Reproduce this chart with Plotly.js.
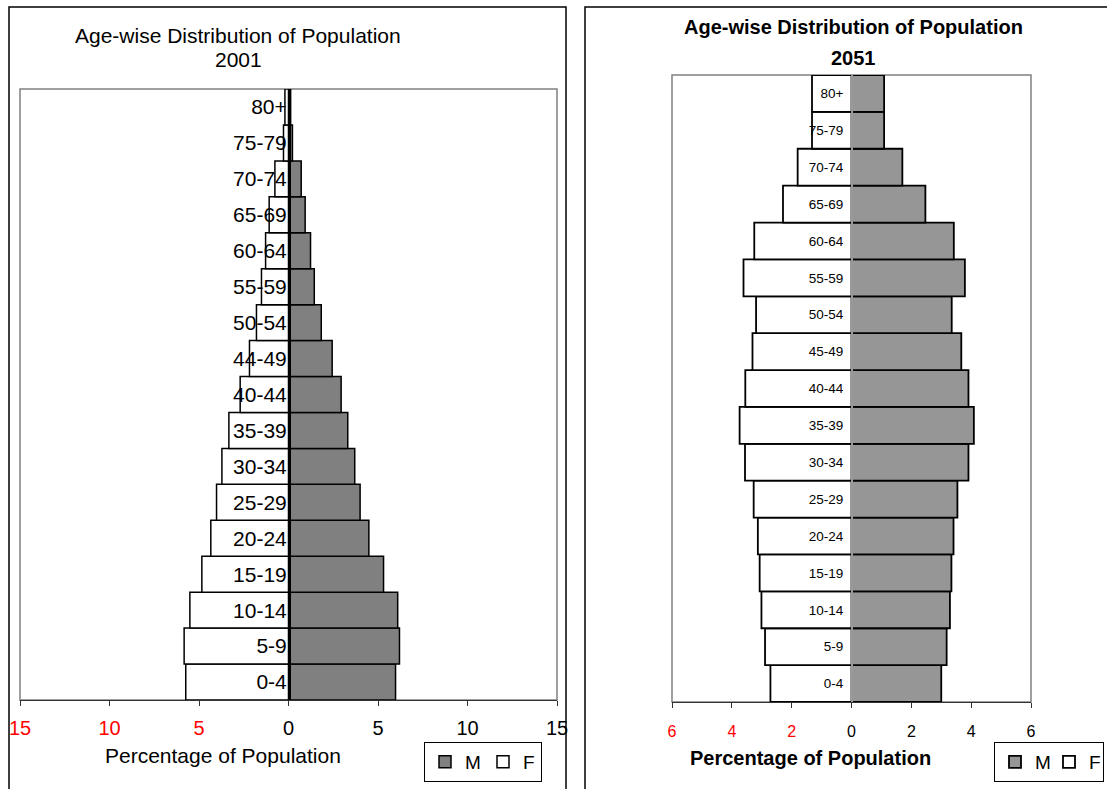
<!DOCTYPE html>
<html>
<head>
<meta charset="utf-8">
<script src="https://cdn.plot.ly/plotly-3.0.1.min.js"></script>
<style>html,body{margin:0;padding:0;background:#fff;}#chart{width:1107px;height:789px;}</style>
</head>
<body>
<div id="chart"></div>
<script>
// ---- data ----
const ages2001 = ["0-4","5-9","10-14","15-19","20-24","25-29","30-34","35-39","40-44","44-49","50-54","55-59","60-64","65-69","70-74","75-79","80+"];
const male2001 = [5.98, 6.2, 6.1, 5.31, 4.49, 4.0, 3.7, 3.31, 2.94, 2.44, 1.83, 1.44, 1.23, 0.93, 0.71, 0.22, 0.12];
const female2001 = [5.74, 5.83, 5.51, 4.84, 4.34, 4.02, 3.72, 3.33, 2.7, 2.18, 1.79, 1.51, 1.28, 1.08, 0.76, 0.28, 0.2];

const ages2051 = ["0-4","5-9","10-14","15-19","20-24","25-29","30-34","35-39","40-44","45-49","50-54","55-59","60-64","65-69","70-74","75-79","80+"];
const male2051 = [3.0, 3.18, 3.29, 3.34, 3.41, 3.54, 3.91, 4.09, 3.91, 3.67, 3.35, 3.79, 3.42, 2.47, 1.7, 1.09, 1.09];
const female2051 = [2.71, 2.89, 3.01, 3.07, 3.13, 3.27, 3.56, 3.74, 3.55, 3.31, 3.19, 3.61, 3.25, 2.29, 1.8, 1.32, 1.32];

const ticks2001 = [-15, -10, -5, 0, 5, 10, 15];
const ticks2051 = [-6, -4, -2, 0, 2, 4, 6];
const seriesNames = ["M", "F"];

// ---- helpers ----
const W = 1107, H = 789;
const px = v => v / W;
const py = v => 1 - v / H;
const tickText = vals => vals.map(v => v < 0 ? '<span style="color:#ff0000">' + Math.abs(v) + '</span>' : String(v));
const FONT = "Arial, 'Liberation Sans', sans-serif";

const traces = [
  {type:"bar", orientation:"h", name:seriesNames[0], y:ages2001, x:male2001, xaxis:"x", yaxis:"y", legend:"legend",
   marker:{color:"#808080", line:{color:"#000", width:1.5}}, hoverinfo:"skip"},
  {type:"bar", orientation:"h", name:seriesNames[1], y:ages2001, x:female2001.map(v => -v), xaxis:"x", yaxis:"y", legend:"legend",
   marker:{color:"#ffffff", line:{color:"#000", width:1.5}}, hoverinfo:"skip"},
  {type:"bar", orientation:"h", name:seriesNames[0], y:ages2051, x:male2051, xaxis:"x2", yaxis:"y2", legend:"legend2",
   marker:{color:"#969696", line:{color:"#000", width:1.8}}, hoverinfo:"skip"},
  {type:"bar", orientation:"h", name:seriesNames[1], y:ages2051, x:female2051.map(v => -v), xaxis:"x2", yaxis:"y2", legend:"legend2",
   marker:{color:"#ffffff", line:{color:"#000", width:1.8}}, hoverinfo:"skip"}
];

const layout = {
  width: W, height: H,
  margin: {l:0, r:0, t:0, b:0, autoexpand:false},
  paper_bgcolor: "#fff", plot_bgcolor: "#fff",
  font: {family: FONT, color: "#000"},
  barmode: "overlay", bargap: 0,
  showlegend: true,
  xaxis: {
    domain: [px(20), px(557)], range: [-15, 15], anchor: "y",
    tickvals: ticks2001, ticktext: tickText(ticks2001),
    showgrid: false, zeroline: false, showline: true, linecolor: "#333", linewidth: 1,
    ticks: "outside", ticklen: 5, tickcolor: "#333",
    tickfont: {size: 20, family: FONT, color: "#000"}, ticklabelstandoff: 5, fixedrange: true
  },
  yaxis: {
    domain: [py(700), py(89)], type: "category", anchor: "free", position: px(290),
    showgrid: false, zeroline: false, showline: true, linecolor: "#000", linewidth: 2,
    ticks: "", tickfont: {size: 21, family: FONT, color: "#000"}, ticklabelstandoff: -2, fixedrange: true
  },
  xaxis2: {
    domain: [px(672), px(1031)], range: [-6, 6], anchor: "y2",
    tickvals: ticks2051, ticktext: tickText(ticks2051),
    showgrid: false, zeroline: false, showline: true, linecolor: "#333", linewidth: 1,
    ticks: "outside", ticklen: 5, tickcolor: "#333",
    tickfont: {size: 16, family: FONT, color: "#000"}, ticklabelstandoff: 10, fixedrange: true
  },
  yaxis2: {
    domain: [py(702), py(75)], type: "category", anchor: "free", position: px(851),
    showgrid: false, zeroline: false, showline: true, linecolor: "#999", linewidth: 1.5,
    ticks: "", tickfont: {size: 13.5, family: FONT, color: "#000"}, ticklabelstandoff: 5, fixedrange: true
  },
  legend: {
    x: px(424), y: py(742), xanchor: "left", yanchor: "top", orientation: "h",
    bgcolor: "#fff", bordercolor: "#000", borderwidth: 1, entrywidth: 13,
    font: {size: 19, family: FONT, color: "#000"}, traceorder: "normal"
  },
  legend2: {
    x: px(994), y: py(742), xanchor: "left", yanchor: "top", orientation: "h",
    bgcolor: "#fff", bordercolor: "#000", borderwidth: 1, entrywidth: 9,
    font: {size: 19, family: FONT, color: "#000"}, traceorder: "normal"
  },
  shapes: [
    {type:"rect", xref:"paper", yref:"paper", x0:px(9), x1:px(566), y0:-0.1, y1:py(7), line:{color:"#000", width:1.5}, layer:"below"},
    {type:"rect", xref:"paper", yref:"paper", x0:px(585), x1:1.1, y0:-0.1, y1:py(7), line:{color:"#000", width:1.5}, layer:"below"},
    {type:"rect", xref:"x domain", yref:"y domain", x0:0, x1:1, y0:0, y1:1, line:{color:"#808080", width:1.5}, layer:"below"},
    {type:"rect", xref:"x2 domain", yref:"y2 domain", x0:0, x1:1, y0:0, y1:1, line:{color:"#808080", width:1.5}, layer:"below"}
  ],
  annotations: [
    {text:"Age-wise Distribution of Population", xref:"paper", yref:"paper", x:px(238), y:py(35), xanchor:"center", yanchor:"middle", showarrow:false, font:{size:21, family:FONT, color:"#000"}},
    {text:"2001", xref:"paper", yref:"paper", x:px(238), y:py(60), xanchor:"center", yanchor:"middle", showarrow:false, font:{size:21, family:FONT, color:"#000"}},
    {text:"<b>Age-wise Distribution of Population</b>", xref:"paper", yref:"paper", x:px(853), y:py(27), xanchor:"center", yanchor:"middle", showarrow:false, font:{size:20, family:FONT, color:"#000"}},
    {text:"<b>2051</b>", xref:"paper", yref:"paper", x:px(853), y:py(58), xanchor:"center", yanchor:"middle", showarrow:false, font:{size:20, family:FONT, color:"#000"}},
    {text:"Percentage of Population", xref:"paper", yref:"paper", x:px(223), y:py(755), xanchor:"center", yanchor:"middle", showarrow:false, font:{size:21, family:FONT, color:"#000"}},
    {text:"<b>Percentage of Population</b>", xref:"paper", yref:"paper", x:px(810), y:py(758), xanchor:"center", yanchor:"middle", showarrow:false, font:{size:20, family:FONT, color:"#000"}}
  ]
};

Plotly.newPlot("chart", traces, layout, {displayModeBar:false, staticPlot:true});
</script>
</body>
</html>
